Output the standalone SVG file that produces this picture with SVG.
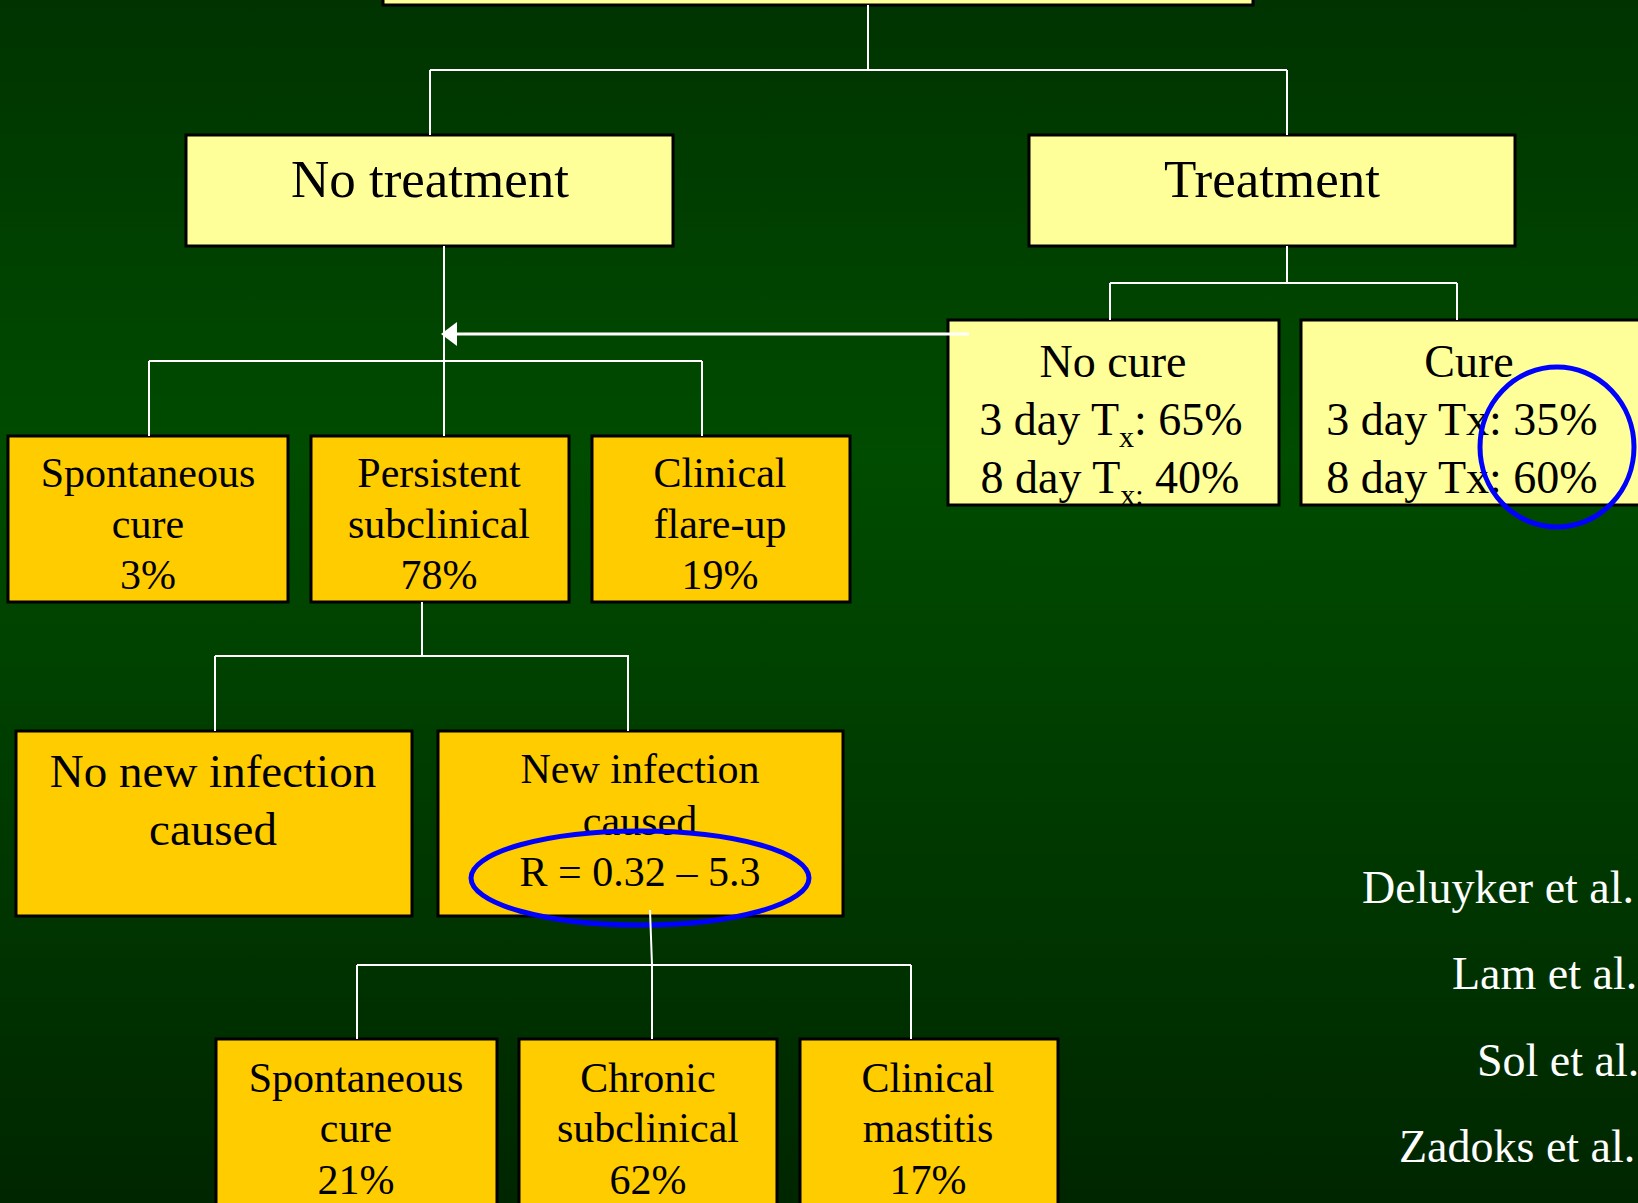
<svg xmlns="http://www.w3.org/2000/svg" width="1638" height="1203" viewBox="0 0 1638 1203">
<defs>
<linearGradient id="bg" x1="0" y1="0" x2="0" y2="1">
<stop offset="0" stop-color="#003300"/>
<stop offset="0.38" stop-color="#004c00"/>
<stop offset="1" stop-color="#002600"/>
</linearGradient>
<style>
.t{font-family:"Liberation Serif","Times New Roman",serif;fill:#000;text-anchor:middle}
.ref{font-family:"Liberation Serif","Times New Roman",serif;fill:#fff;font-size:46px}
.lt{fill:#ffff99;stroke:#000;stroke-width:3}
.or{fill:#ffcc00;stroke:#000;stroke-width:3}
.c{stroke:#fff;stroke-width:2;fill:none}
.ring{fill:none;stroke:#0000ff;stroke-width:5}
</style>
</defs>
<rect width="1638" height="1203" fill="url(#bg)"/>

<g id="root"><rect class="lt" x="383" y="-50" width="870" height="55"/></g>

<g id="no-treatment"><rect class="lt" x="186" y="135" width="487" height="111"/>
<text class="t" x="430" y="197" font-size="53">No treatment</text></g>

<g id="treatment"><rect class="lt" x="1029" y="135" width="486" height="111"/>
<text class="t" x="1272" y="197" font-size="53">Treatment</text></g>

<g id="no-cure"><rect class="lt" x="948" y="320" width="331" height="185"/>
<text class="t" font-size="46"><tspan x="1113" y="377">No cure</tspan></text>
<text class="t" font-size="46" x="1111" y="435">3 day T<tspan font-size="30" dy="12">x</tspan><tspan dy="-12">: 65%</tspan></text>
<text class="t" font-size="46" x="1110" y="493">8 day T<tspan font-size="30" dy="12">x:</tspan><tspan dy="-12"> 40%</tspan></text></g>

<g id="cure"><rect class="lt" x="1301" y="320" width="345" height="185"/>
<text class="t" x="1469" y="377" font-size="46">Cure</text>
<text class="t" x="1462" y="435" font-size="46">3 day Tx: 35%</text>
<text class="t" x="1462" y="493" font-size="46">8 day Tx: 60%</text>
<ellipse class="ring" cx="1557" cy="447" rx="77" ry="80"/></g>

<g id="spont1"><rect class="or" x="8" y="436" width="280" height="166"/>
<text class="t" font-size="42"><tspan x="148" y="487">Spontaneous</tspan><tspan x="148" y="538">cure</tspan><tspan x="148" y="589">3%</tspan></text></g>

<g id="persistent"><rect class="or" x="311" y="436" width="258" height="166"/>
<text class="t" font-size="42"><tspan x="439" y="487">Persistent</tspan><tspan x="439" y="538">subclinical</tspan><tspan x="439" y="589">78%</tspan></text></g>

<g id="flare"><rect class="or" x="592" y="436" width="258" height="166"/>
<text class="t" font-size="42"><tspan x="720" y="487">Clinical</tspan><tspan x="720" y="538">flare-up</tspan><tspan x="720" y="589">19%</tspan></text></g>

<g id="no-new"><rect class="or" x="16" y="731" width="396" height="185"/>
<text class="t" font-size="47"><tspan x="213" y="787">No new infection</tspan><tspan x="213" y="845">caused</tspan></text></g>

<g id="new"><rect class="or" x="438" y="731" width="405" height="185"/>
<text class="t" font-size="42"><tspan x="640" y="783">New infection</tspan><tspan x="640" y="835">caused</tspan></text>
<ellipse class="ring" cx="640" cy="878" rx="169" ry="47" fill="#ffcc00"/>
<text class="t" x="640" y="886" font-size="42" textLength="241">R = 0.32 – 5.3</text></g>

<g id="spont2"><rect class="or" x="216" y="1039" width="281" height="190"/>
<text class="t" font-size="42"><tspan x="356" y="1092">Spontaneous</tspan><tspan x="356" y="1142">cure</tspan><tspan x="356" y="1194">21%</tspan></text></g>

<g id="chronic"><rect class="or" x="519" y="1039" width="258" height="190"/>
<text class="t" font-size="42"><tspan x="648" y="1092">Chronic</tspan><tspan x="648" y="1142">subclinical</tspan><tspan x="648" y="1194">62%</tspan></text></g>

<g id="mastitis"><rect class="or" x="800" y="1039" width="258" height="190"/>
<text class="t" font-size="42"><tspan x="928" y="1092">Clinical</tspan><tspan x="928" y="1142">mastitis</tspan><tspan x="928" y="1194">17%</tspan></text></g>

<g id="refs">
<text class="ref" x="1362" y="903">Deluyker et al.</text>
<text class="ref" x="1452" y="989">Lam et al.</text>
<text class="ref" x="1477" y="1076">Sol et al.</text>
<text class="ref" x="1399" y="1162">Zadoks et al.</text>
</g>

<g id="connectors">
<path class="c" d="M868 5V70M430 70H1287M430 70V135M1287 70V135"/>
<path class="c" d="M444 246V436M149 361H702M149 361V436M702 361V436"/>
<path class="c" d="M1287 246V283M1110 283H1457M1110 283V320M1457 283V320"/>
<path class="c" d="M422 602V656M215 656H629M215 656V731M628 656V731"/>
<path class="c" d="M650 910L652 965M357 965H911M357 965V1039M652 965V1039M911 965V1039"/>
<path d="M969 334H455" stroke="#fff" stroke-width="3"/>
<polygon points="441,334 457,322 457,346" fill="#fff"/>
</g>
</svg>
